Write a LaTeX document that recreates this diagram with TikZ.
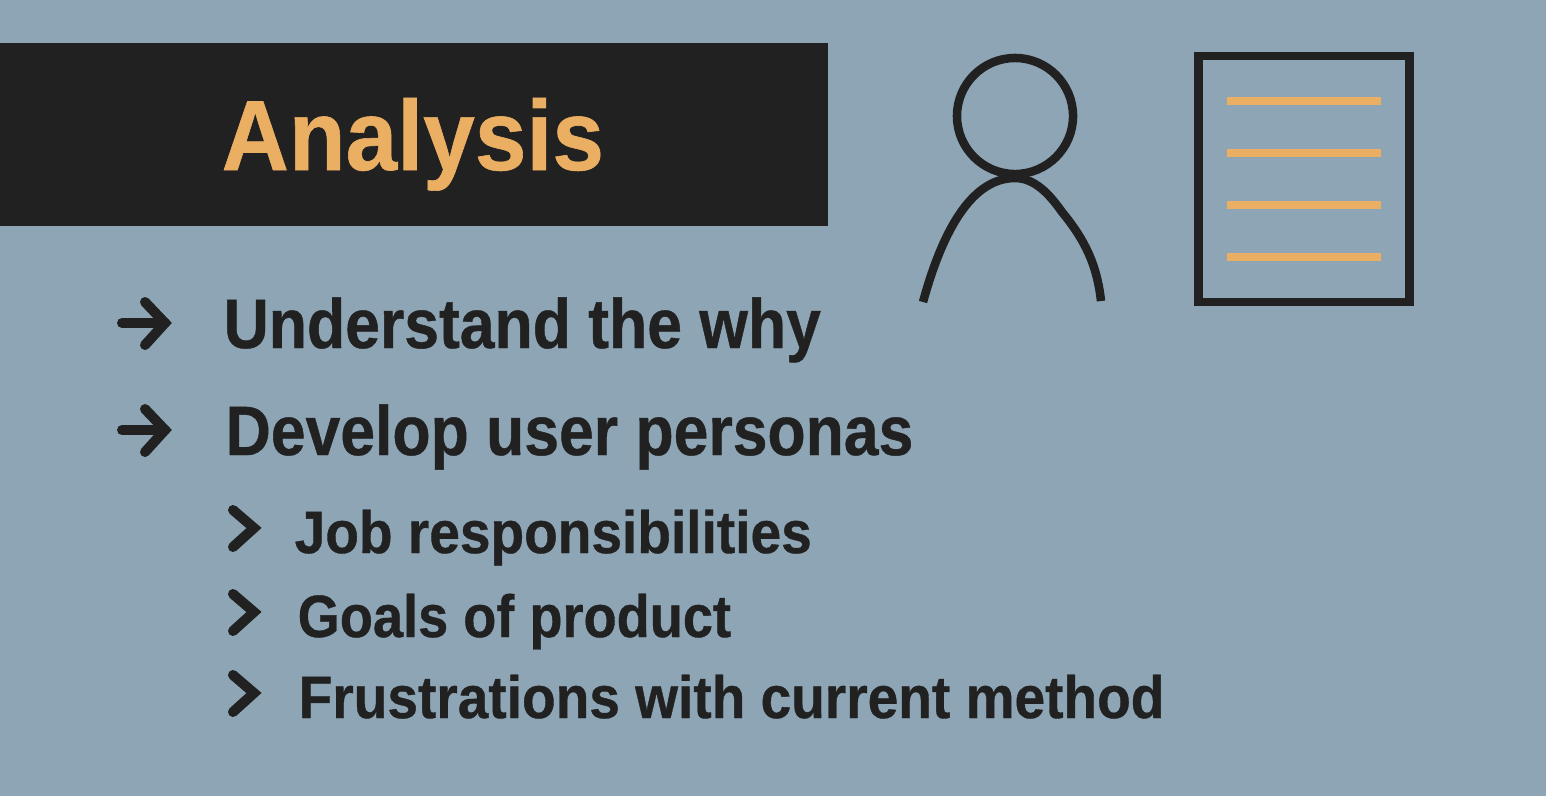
\documentclass[tikz,border=0pt]{standalone}
\usepackage{fontspec}
\newfontfamily\titlefont[FakeStretch=0.934,FakeBold=0.6]{Liberation Sans Bold}
\newfontfamily\itemfont[FakeStretch=0.893,FakeBold=0.6]{Liberation Sans Bold}
\newfontfamily\subfont[FakeStretch=0.921,FakeBold=0.6]{Liberation Sans Bold}
\newfontfamily\goalfont[FakeStretch=0.906,FakeBold=0.6]{Liberation Sans Bold}
\usetikzlibrary{positioning}
\definecolor{slatebg}{HTML}{8DA5B5}
\definecolor{inkdark}{HTML}{212121}
\definecolor{sandtone}{HTML}{EBAF63}
\begin{document}
\begin{tikzpicture}[
  x=0.01cm, y=-0.01cm,
  item/.style={anchor=base west, inner sep=0pt, text=inkdark, font=\itemfont\fontsize{19.9}{24}\selectfont},
  subitem/.style={anchor=base west, inner sep=0pt, text=inkdark, font=\subfont\fontsize{17}{20}\selectfont},
  mark line/.style={draw=inkdark, line width=0.1cm, line cap=round, line join=miter},
  icon/.style={draw=inkdark, line width=0.085cm},
  rule/.style={draw=sandtone, line width=0.08cm}
]
  \useasboundingbox (0,0) rectangle (1546,796);
  \fill[slatebg] (0,0) rectangle (1546,796);
  \fill[inkdark] (0,43) rectangle (828,226);

  \node[anchor=base west, inner sep=0pt, text=sandtone,
        font=\titlefont\fontsize{28.3}{34}\selectfont] (title) at (221,170) {Analysis};

  \node[item] (why)  at (223,348) {Understand the why};
  \node[item] (pers) at (225,455) {Develop user personas};
  \node[subitem] (job)  at (294,553) {Job responsibilities};
  \node[subitem, font=\goalfont\fontsize{17}{20}\selectfont] (goal) at (297,637) {Goals of product};
  \node[subitem] (frus) at (298,718) {Frustrations with current method};

  % arrows in front of the two main lines
  \draw[mark line] (122,323) -- (165,323);
  \draw[mark line] (145,302) -- (165,323) -- (145,345);
  \draw[mark line] (122,430) -- (165,430);
  \draw[mark line] (145,409) -- (165,430) -- (145,452);

  % chevrons
  \draw[mark line] (233,510) -- (254,528) -- (233,547);
  \draw[mark line] (233,594) -- (254,612) -- (233,631);
  \draw[mark line] (233,675) -- (254,693) -- (233,712);

  % person
  \node[icon, circle, minimum size=1.16cm, inner sep=0pt] (head) at (1015,116) {};
  \draw[icon] (923,302) .. controls (940,240) and (968,178) .. (1015,178)
      .. controls (1035,178) and (1050,195) .. (1062,212)
      .. controls (1085,240) and (1097,265) .. (1101,301);

  % sheet
  \node[icon, minimum width=2.11cm, minimum height=2.455cm, inner sep=0pt] (sheet) at (1304,179) {};
  \draw[rule] (1227,101) -- (1381,101);
  \draw[rule] (1227,153) -- (1381,153);
  \draw[rule] (1227,205) -- (1381,205);
  \draw[rule] (1227,257) -- (1381,257);
\end{tikzpicture}
\end{document}
